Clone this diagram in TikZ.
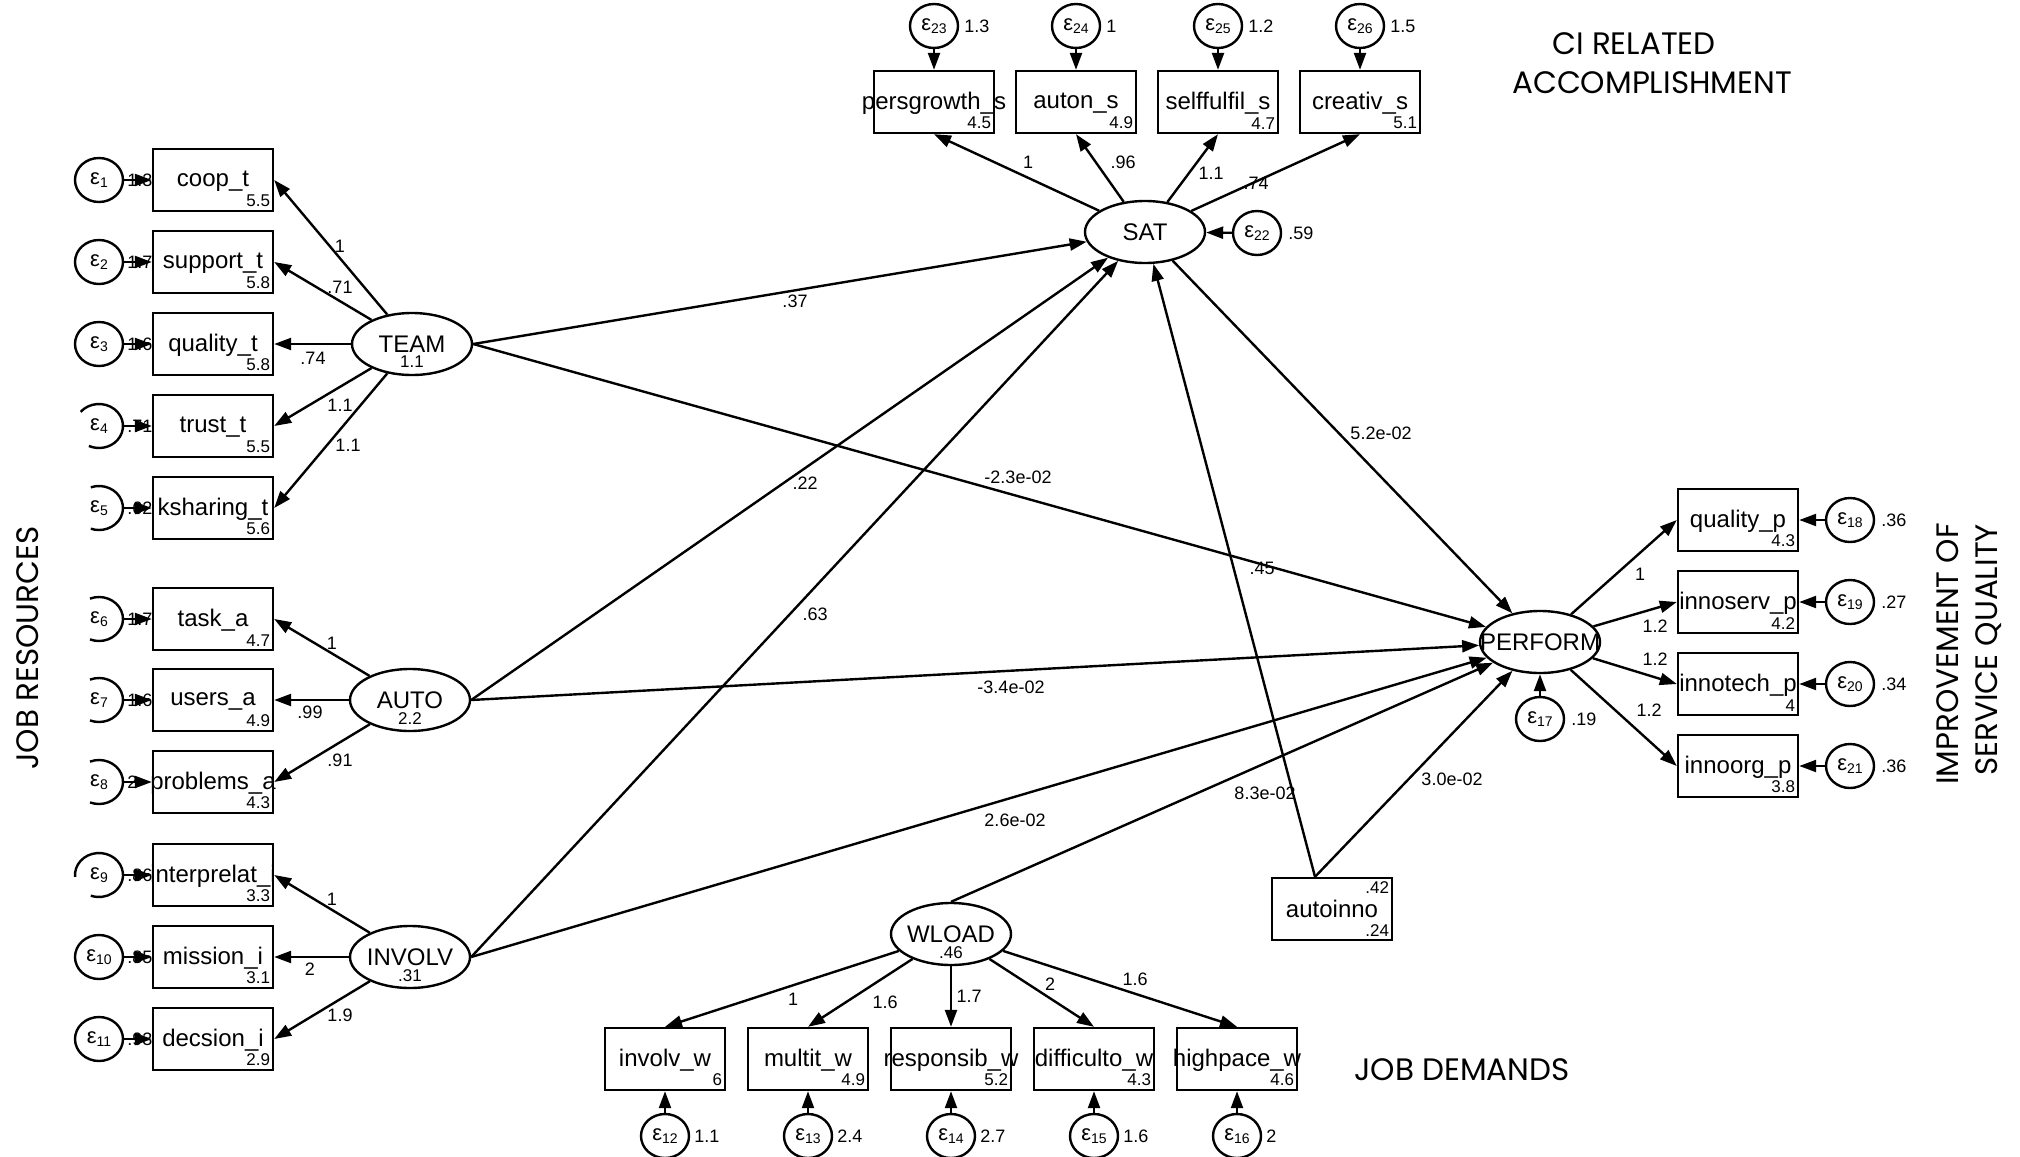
\documentclass[tikz,border=0pt]{standalone}
\usepackage{fontspec}
\setmainfont{Liberation Sans}
\newfontfamily\titlefont{Poppins}
\usetikzlibrary{arrows.meta,shapes.geometric}

\newcommand\fmain{\fontsize{24}{24}\selectfont}
\newcommand\fnum{\fontsize{17}{17}\selectfont}
\newcommand\flab{\fontsize{18}{18}\selectfont}
\newcommand\ftitle{\titlefont\fontsize{31}{31}\selectfont}
\newcommand\epslab[1]{{\fontsize{22}{22}\selectfont ε}\raisebox{-3pt}{\fontsize{14}{14}\selectfont #1}}

\tikzset{
  obs/.style={draw, rectangle, line width=2.4pt, minimum width=120pt, minimum height=62pt, inner sep=0pt},
  lat/.style={draw, ellipse, line width=2.4pt, minimum width=120pt, minimum height=62pt, inner sep=0pt},
  err/.style={draw, ellipse, line width=2.4pt, minimum width=48pt, minimum height=44pt, inner sep=0pt},
  errh/.style={err, draw=none},
  arr/.style={line width=2.4pt, -{Triangle[length=17pt,width=12pt]}},
  elab/.style={font=\flab, inner sep=0pt},
  txt/.style={inner sep=0pt},
  ttl/.style={font=\ftitle, inner sep=0pt}
}

% box: name, position, label, number
\newcommand\obsbox[4]{%
  \node[obs] (#1) at (#2) {};
  \node[txt, font=\fmain] (#1t) at ([yshift=-1pt]#1.center) {#3};
  \node[txt, font=\fnum, anchor=south east] (#1n) at ([xshift=-4pt,yshift=5pt]#1.south east) {#4};
}
% latent: name, position, label, number
\newcommand\latnode[4]{%
  \node[lat] (#1) at (#2) {};
  \node[txt, font=\fmain] (#1t) at (#1.center) {#3};
  \node[txt, font=\fnum, anchor=north] (#1n) at ([yshift=-12pt]#1.center) {#4};
}
\newcommand\openarc[3]{%
  \draw[line width=2.4pt] ([shift={(#2:24pt and 22pt)}]#1.center) arc[start angle=#2, end angle=#3, x radius=24pt, y radius=22pt];
}

\begin{document}
\begin{tikzpicture}[x=1pt,y=-1pt]
\fill[white] (0,0) rectangle (2020,1156);
\useasboundingbox (0,0) rectangle (2020,1156);

% ---------------- left indicators ----------------
\obsbox{coop}{213,180}{coop\_t}{5.5}
\obsbox{support}{213,262}{support\_t}{5.8}
\obsbox{qualt}{213,344}{quality\_t}{5.8}
\obsbox{trust}{213,426}{trust\_t}{5.5}
\obsbox{ksharing}{213,508}{ksharing\_t}{5.6}
\obsbox{task}{213,619}{task\_a}{4.7}
\obsbox{users}{213,700}{users\_a}{4.9}
\obsbox{problems}{213,782}{problems\_a}{4.3}
\obsbox{interp}{213,875}{interprelat\_i}{3.3}
\obsbox{mission}{213,957}{mission\_i}{3.1}
\obsbox{decsion}{213,1039}{decsion\_i}{2.9}

% left error terms
\node[err]  (e1)  at (99,180)  {\epslab{1}};
\node[err]  (e2)  at (99,262)  {\epslab{2}};
\node[err]  (e3)  at (99,344)  {\epslab{3}};
\node[errh] (e4)  at (99,426)  {\epslab{4}};
\node[errh] (e5)  at (99,508)  {\epslab{5}};
\node[errh] (e6)  at (99,619)  {\epslab{6}};
\node[errh] (e7)  at (99,700)  {\epslab{7}};
\node[errh] (e8)  at (99,782)  {\epslab{8}};
\node[errh] (e9)  at (99,875)  {\epslab{9}};
\node[err]  (e10) at (99,957)  {\epslab{10}};
\node[err]  (e11) at (99,1039) {\epslab{11}};
\openarc{e4}{140}{-115}
\openarc{e5}{110}{-110}
\openarc{e6}{112}{-112}
\openarc{e7}{112}{-112}
\openarc{e8}{112}{-112}
\openarc{e9}{185}{-110}

\node[elab, anchor=west] (e1v)  at ([xshift=3pt]e1.east)  {1.3};
\node[elab, anchor=west] (e2v)  at ([xshift=3pt]e2.east)  {1.7};
\node[elab, anchor=west] (e3v)  at ([xshift=3pt]e3.east)  {1.6};
\node[elab, anchor=west] (e4v)  at ([xshift=3pt]e4.east)  {.71};
\node[elab, anchor=west] (e5v)  at ([xshift=3pt]e5.east)  {.62};
\node[elab, anchor=west] (e6v)  at ([xshift=3pt]e6.east)  {1.7};
\node[elab, anchor=west] (e7v)  at ([xshift=3pt]e7.east)  {1.6};
\node[elab, anchor=west] (e8v)  at ([xshift=3pt]e8.east)  {2};
\node[elab, anchor=west] (e9v)  at ([xshift=3pt]e9.east)  {.86};
\node[elab, anchor=west] (e10v) at ([xshift=3pt]e10.east) {.85};
\node[elab, anchor=west] (e11v) at ([xshift=3pt]e11.east) {.93};

\foreach \e/\b in {e1/coop,e2/support,e3/qualt,e4/trust,e5/ksharing,e6/task,e7/users,e8/problems,e9/interp,e10/mission,e11/decsion}
  \draw[arr] (\e) -- (\b);

% ---------------- latents ----------------
\latnode{TEAM}{412,344}{TEAM}{1.1}
\latnode{AUTO}{410,700}{AUTO}{2.2}
\latnode{INVOLV}{410,957}{INVOLV}{.31}
\latnode{SAT}{1145,232}{SAT}{}
\latnode{PERFORM}{1540,642}{PERFORM}{}
\latnode{WLOAD}{951,934}{WLOAD}{.46}

\foreach \b in {coop,support,qualt,trust,ksharing}
  \draw[arr] (TEAM) -- (\b.east);
\foreach \b in {task,users,problems}
  \draw[arr] (AUTO) -- (\b.east);
\foreach \b in {interp,mission,decsion}
  \draw[arr] (INVOLV) -- (\b.east);

\node[elab] (lT1) at (340,246) {1};
\node[elab] (lT2) at (340,287) {.71};
\node[elab] (lT3) at (313,358) {.74};
\node[elab] (lT4) at (340,405) {1.1};
\node[elab] (lT5) at (348,445) {1.1};
\node[elab] (lA1) at (332,643) {1};
\node[elab] (lA2) at (310,712) {.99};
\node[elab] (lA3) at (340,760) {.91};
\node[elab] (lI1) at (332,899) {1};
\node[elab] (lI2) at (310,969) {2};
\node[elab] (lI3) at (340,1015) {1.9};

% ---------------- SAT indicators ----------------
\obsbox{pers}{934,102}{persgrowth\_s}{4.5}
\obsbox{auton}{1076,102}{auton\_s}{4.9}
\obsbox{selff}{1218,102}{selffulfil\_s}{4.7}
\obsbox{creat}{1360,102}{creativ\_s}{5.1}
\node[err] (e23) at (934,26)  {\epslab{23}};
\node[err] (e24) at (1076,26) {\epslab{24}};
\node[err] (e25) at (1218,26) {\epslab{25}};
\node[err] (e26) at (1360,26) {\epslab{26}};
\node[elab, anchor=west] (e23v) at ([xshift=5pt]e23.east) {1.3};
\node[elab, anchor=west] (e24v) at ([xshift=5pt]e24.east) {1};
\node[elab, anchor=west] (e25v) at ([xshift=5pt]e25.east) {1.2};
\node[elab, anchor=west] (e26v) at ([xshift=5pt]e26.east) {1.5};
\foreach \e/\b in {e23/pers,e24/auton,e25/selff,e26/creat}
  \draw[arr] (\e) -- (\b);
\foreach \b in {pers,auton,selff,creat}
  \draw[arr] (SAT) -- (\b.south);
\node[elab] (lS1) at (1028,162) {1};
\node[elab] (lS2) at (1123,162) {.96};
\node[elab] (lS3) at (1211,173) {1.1};
\node[elab] (lS4) at (1256,183) {.74};

\node[err] (e22) at (1257,233) {\epslab{22}};
\node[elab, anchor=west] (e22v) at ([xshift=6pt]e22.east) {.59};
\draw[arr] (e22) -- (SAT);

% ---------------- PERFORM indicators ----------------
\obsbox{qualp}{1738,520}{quality\_p}{4.3}
\obsbox{innoserv}{1738,602}{innoserv\_p}{4.2}
\obsbox{innotech}{1738,684}{innotech\_p}{4}
\obsbox{innoorg}{1738,766}{innoorg\_p}{3.8}
\node[err] (e18) at (1850,520) {\epslab{18}};
\node[err] (e19) at (1850,602) {\epslab{19}};
\node[err] (e20) at (1850,684) {\epslab{20}};
\node[err] (e21) at (1850,766) {\epslab{21}};
\node[elab, anchor=west] (e18v) at ([xshift=6pt]e18.east) {.36};
\node[elab, anchor=west] (e19v) at ([xshift=6pt]e19.east) {.27};
\node[elab, anchor=west] (e20v) at ([xshift=6pt]e20.east) {.34};
\node[elab, anchor=west] (e21v) at ([xshift=6pt]e21.east) {.36};
\foreach \e/\b in {e18/qualp,e19/innoserv,e20/innotech,e21/innoorg}
  \draw[arr] (\e) -- (\b);
\foreach \b in {qualp,innoserv,innotech,innoorg}
  \draw[arr] (PERFORM) -- (\b.west);
\node[elab] (lP1) at (1640,574) {1};
\node[elab] (lP2) at (1655,626) {1.2};
\node[elab] (lP3) at (1655,659) {1.2};
\node[elab] (lP4) at (1649,710) {1.2};

\node[err] (e17) at (1540,719) {\epslab{17}};
\node[elab, anchor=west] (e17v) at ([xshift=6pt]e17.east) {.19};
\draw[arr] (e17) -- (PERFORM);

% ---------------- WLOAD indicators ----------------
\obsbox{involvw}{665,1059}{involv\_w}{6}
\obsbox{multitw}{808,1059}{multit\_w}{4.9}
\obsbox{responsibw}{951,1059}{responsib\_w}{5.2}
\obsbox{difficultow}{1094,1059}{difficulto\_w}{4.3}
\obsbox{highpacew}{1237,1059}{highpace\_w}{4.6}
\node[err] (e12) at (665,1136)  {\epslab{12}};
\node[err] (e13) at (808,1136)  {\epslab{13}};
\node[err] (e14) at (951,1136)  {\epslab{14}};
\node[err] (e15) at (1094,1136) {\epslab{15}};
\node[err] (e16) at (1237,1136) {\epslab{16}};
\node[elab, anchor=west] (e12v) at ([xshift=4pt]e12.east) {1.1};
\node[elab, anchor=west] (e13v) at ([xshift=4pt]e13.east) {2.4};
\node[elab, anchor=west] (e14v) at ([xshift=4pt]e14.east) {2.7};
\node[elab, anchor=west] (e15v) at ([xshift=4pt]e15.east) {1.6};
\node[elab, anchor=west] (e16v) at ([xshift=4pt]e16.east) {2};
\foreach \e/\b in {e12/involvw,e13/multitw,e14/responsibw,e15/difficultow,e16/highpacew}
  \draw[arr] (\e) -- (\b);
\foreach \b in {involvw,multitw,responsibw,difficultow,highpacew}
  \draw[arr] (WLOAD) -- (\b.north);
\node[elab] (lW1) at (793,999)  {1};
\node[elab] (lW2) at (885,1002) {1.6};
\node[elab] (lW3) at (969,996)  {1.7};
\node[elab] (lW4) at (1050,984) {2};
\node[elab] (lW5) at (1135,979) {1.6};

% ---------------- autoinno ----------------
\node[obs] (autoinno) at (1332,909) {};
\node[txt, font=\fmain] (autoinnot) at (autoinno.center) {autoinno};
\node[txt, font=\fnum, anchor=north east] (autoinnoa) at ([xshift=-4pt,yshift=-5pt]autoinno.north east) {.42};
\node[txt, font=\fnum, anchor=south east] (autoinnob) at ([xshift=-4pt,yshift=5pt]autoinno.south east) {.24};
\coordinate (ai) at ([xshift=-17pt]autoinno.north);

% ---------------- structural paths ----------------
\draw[arr] (TEAM.east) -- (SAT);
\draw[arr] (TEAM.east) -- (PERFORM);
\draw[arr] (AUTO.east) -- (SAT);
\draw[arr] (AUTO.east) -- (PERFORM);
\draw[arr] (INVOLV.east) -- (SAT);
\draw[arr] (INVOLV.east) -- (PERFORM);
\draw[arr] (SAT) -- (PERFORM);
\draw[arr] (WLOAD.north) -- (PERFORM);
\draw[arr] (ai) -- (SAT);
\draw[arr] (ai) -- (PERFORM);

\node[elab] (l1) at (795,301)  {.37};
\node[elab] (l2) at (1018,477) {-2.3e-02};
\node[elab] (l3) at (805,483)  {.22};
\node[elab] (l4) at (815,614)  {.63};
\node[elab] (l5) at (1262,568) {.45};
\node[elab] (l6) at (1381,433) {5.2e-02};
\node[elab] (l7) at (1011,687) {-3.4e-02};
\node[elab] (l8) at (1015,820) {2.6e-02};
\node[elab] (l9) at (1265,793) {8.3e-02};
\node[elab] (l10) at (1452,779) {3.0e-02};

% ---------------- titles ----------------
\node[ttl] (t1) at (1634,44) {CI RELATED};
\node[ttl] (t2) at (1652,83) {ACCOMPLISHMENT};
\node[ttl] (t3) at (1462,1070) {JOB DEMANDS};
\node[ttl, rotate=90] (t4) at (28,648) {JOB RESOURCES};
\node[ttl, rotate=90] (t5) at (1948,654) {IMPROVEMENT OF};
\node[ttl, rotate=90] (t6) at (1989,650) {SERVICE QUALITY};
\end{tikzpicture}
\end{document}
